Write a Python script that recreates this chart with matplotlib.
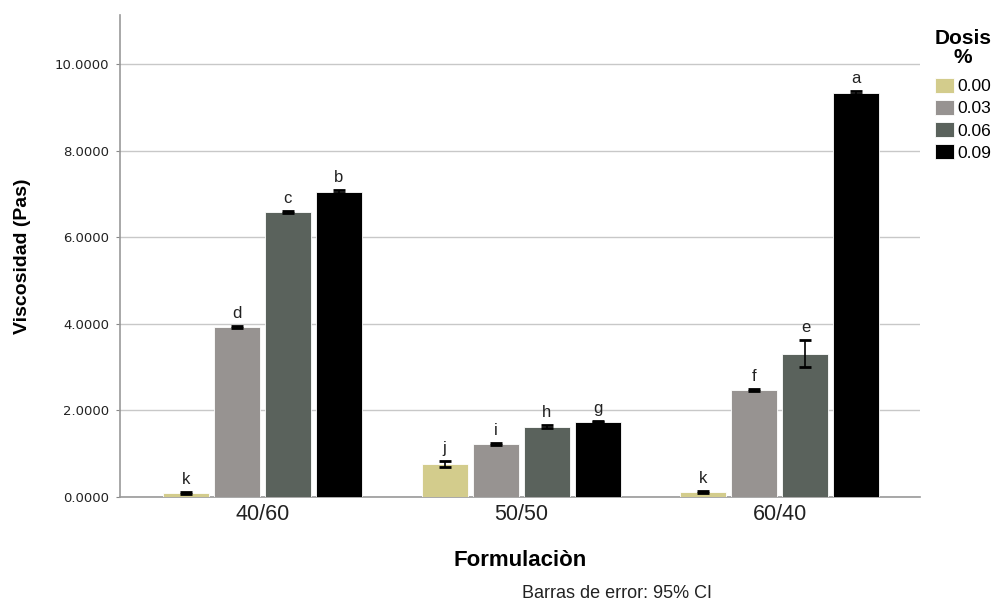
import matplotlib
matplotlib.use("Agg")
import matplotlib.pyplot as plt
import numpy as np

plt.rcParams["font.family"] = ["Liberation Sans", "DejaVu Sans"]

formulaciones = ["40/60", "50/50", "60/40"]
dosis = ["0.00", "0.03", "0.06", "0.09"]
colores = ["#d3cc8c", "#979391", "#5a625c", "#000000"]

# mean viscosity per formulation (rows) and dose (columns)
viscosidad = [
    [0.09, 3.92, 6.58, 7.05],
    [0.75, 1.22, 1.62, 1.74],
    [0.12, 2.47, 3.31, 9.34],
]
# half width of the 95% CI
error = [
    [0.02, 0.02, 0.02, 0.03],
    [0.07, 0.02, 0.03, 0.02],
    [0.02, 0.02, 0.31, 0.03],
]
letras = [
    ["k", "d", "c", "b"],
    ["j", "i", "h", "g"],
    ["k", "f", "e", "a"],
]

fig = plt.figure(figsize=(10.02, 6.06), dpi=100)
ax = fig.add_axes([0.1198, 0.18, 0.798, 0.795])

x = np.arange(len(formulaciones))
ancho = 0.178
paso = 0.197
for j, d in enumerate(dosis):
    pos = x + (j - 1.5) * paso
    vals = [viscosidad[i][j] for i in range(len(formulaciones))]
    errs = [error[i][j] for i in range(len(formulaciones))]
    ax.bar(pos, vals, width=ancho, color=colores[j], edgecolor="white",
           linewidth=0.6, label=d, zorder=3)
    ax.errorbar(pos, vals, yerr=errs, fmt="none", ecolor="black",
                elinewidth=1.2, capsize=4.5, capthick=2, zorder=4)
    for i in range(len(formulaciones)):
        ax.text(pos[i], vals[i] + errs[i] + 0.12, letras[i][j], ha="center",
                va="bottom", fontsize=12, color="#222222", zorder=5)

ax.set_xlim(-0.55, 2.54)
ax.set_ylim(0, 11.13)
ax.set_yticks([0, 2, 4, 6, 8, 10])
ax.set_yticklabels([f"{v:.4f}" for v in [0, 2, 4, 6, 8, 10]], fontsize=9.5,
                   color="#222222", family="DejaVu Sans")
ax.set_xticks(x)
ax.set_xticklabels(formulaciones, fontsize=15.5, color="#222222")
ax.tick_params(axis="x", length=0, pad=5)
ax.tick_params(axis="y", length=3, color="#888888", pad=5)
ax.yaxis.grid(True, color="#c8c8c8", linewidth=1, zorder=0)
ax.set_axisbelow(True)
for s in ["top", "right"]:
    ax.spines[s].set_visible(False)
ax.spines["left"].set_color("#999999")
ax.spines["bottom"].set_color("#999999")
ax.spines["left"].set_linewidth(1.2)
ax.spines["bottom"].set_linewidth(1.2)

ax.set_ylabel("Viscosidad (Pas)", fontsize=14, fontweight="bold", labelpad=17)
ax.set_xlabel("Formulaciòn", fontsize=16, fontweight="bold", labelpad=18)

leg = ax.legend(title="Dosis\n%", loc="upper left", bbox_to_anchor=(1.01, 0.985),
                frameon=False, fontsize=12.5, handlelength=1.1, handleheight=0.95,
                handletextpad=0.2, labelspacing=0.33, borderaxespad=0)
leg.get_title().set_fontweight("bold")
leg.get_title().set_fontsize(15)
leg.get_title().set_multialignment("center")
leg.get_title().set_linespacing(0.95)
leg._legend_box.sep = 8

fig.text(0.616, 0.006, "Barras de error: 95% CI", ha="center", va="bottom",
         fontsize=13, color="#222222")

fig.savefig("out.png", dpi=100)
